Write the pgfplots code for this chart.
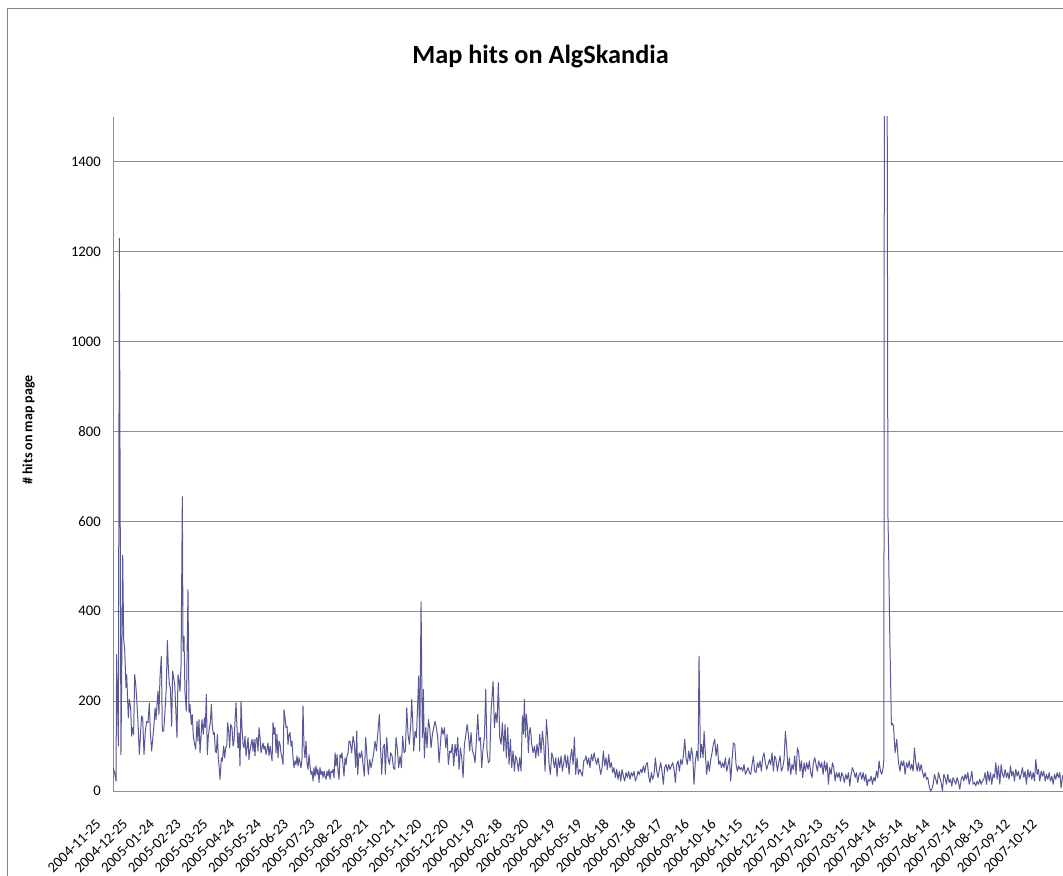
\documentclass[border=0pt]{standalone}
\usepackage{fontspec}
\setmainfont{Carlito}
\usepackage{pgfplots}
\pgfplotsset{compat=1.18}
\definecolor{linecol}{RGB}{88,88,150}
\definecolor{gridcol}{RGB}{140,140,140}
\definecolor{bordercol}{RGB}{134,134,134}
\begin{document}
\begin{tikzpicture}
\path[use as bounding box] (0,0) rectangle (797.25pt,656.25pt);
\draw[bordercol, line width=0.75pt] (5.25pt,-5pt) -- (5.25pt,649.5pt) -- (810pt,649.5pt);
\begin{axis}[
  at={(84.75pt,63pt)}, anchor=south west,
  scale only axis, width=712.5pt, height=505.5pt,
  xmin=0, xmax=1096, ymin=0, ymax=1500,
  enlargelimits=false,
  axis x line*=bottom, axis y line*=left,
  axis line style={-, draw=gridcol, line width=0.75pt},
  major tick length=0pt,
  ymajorgrids, grid style={draw=gridcol, line width=0.75pt},
  ytick={0,200,400,600,800,1000,1200,1400},
  /pgf/number format/1000 sep={},
  /pgf/number format/assume math mode=true,
  xtick={0,30.85,61.7,92.55,123.4,154.25,185.1,215.95,246.8,277.65,308.5,339.35,370.2,401.05,431.9,462.75,493.6,524.45,555.3,586.15,617,647.85,678.7,709.55,740.4,771.25,802.1,832.95,863.8,894.65,925.5,956.35,987.2,1018.05,1048.9,1079.75},
  xticklabels={2004-11-25,2004-12-25,2005-01-24,2005-02-23,2005-03-25,2005-04-24,2005-05-24,2005-06-23,2005-07-23,2005-08-22,2005-09-21,2005-10-21,2005-11-20,2005-12-20,2006-01-19,2006-02-18,2006-03-20,2006-04-19,2006-05-19,2006-06-18,2006-07-18,2006-08-17,2006-09-16,2006-10-16,2006-11-15,2006-12-15,2007-01-14,2007-02-13,2007-03-15,2007-04-14,2007-05-14,2007-06-14,2007-07-14,2007-08-13,2007-09-12,2007-10-12},
  ticklabel style={font=\fontsize{11}{13}\selectfont},
  yticklabel style={anchor=east, inner sep=0pt, xshift=-9pt},
  xticklabel style={xshift=-10.8pt, yshift=-23pt, rotate=45, anchor=east, inner sep=0pt},
  every axis title shift=0pt,
  title={Map hits on AlgSkandia},
  title style={at={(axis description cs:0.45,1.089)}, anchor=center, font=\fontsize{19.7}{23}\selectfont\bfseries},
  ylabel={\# hits on map page},
  ylabel style={at={(axis description cs:-0.0889,0.5356)}, anchor=center, font=\fontsize{10.5}{12}\selectfont\bfseries},
]
\addplot[linecol, line width=0.75pt, line join=round] coordinates {
(0,52) (1.5,44) (3.5,22) (4.2,304) (6.2,100) (7.3,1230) (9.2,81) (11.2,525) (12.3,337) (13.5,315) (15,230) (15.8,259) (17,196) (17.7,163) (18.8,204) (20.4,185) (21.5,122) (22.7,141) (23.8,126) (25,259) (26.2,237) (27.3,207) (28.8,155) (30.4,81) (31.9,133) (33,167) (34.2,163) (35.8,81) (37.3,133) (38.8,155) (40.4,152) (41.9,196) (43,133) (44.6,89) (45.8,115) (47.3,148) (48.5,185) (49.6,159) (50.8,193) (51.9,222) (53,170) (54.2,252) (55.8,300) (56.9,133) (58.5,133) (60,178) (61.5,230) (62.7,335) (63.8,278) (65,237) (66.2,230) (67.7,144) (68.8,267) (70,252) (71.2,237) (72.3,189) (73.8,119) (75,259) (76.2,244) (77.3,222) (78.5,281) (80,655) (80.8,311) (81.9,344) (83,222) (84.6,178) (86.5,448) (87.7,174) (88.8,193) (90.4,148) (91.5,170) (92.7,119) (94.2,104) (95.4,93) (96.9,155) (98,111) (99.2,159) (100.4,85) (101.5,119) (102.7,159) (104.2,126) (105.4,163) (106.5,141) (107.7,215) (108.8,81) (110,122) (111.2,141) (112.3,152) (113.5,193) (114.6,144) (115.8,126) (116.9,130) (118.1,89) (119.2,85) (120.4,126) (121.5,74) (122.5,52) (123.5,26) (125,74) (126.2,67) (127.7,100) (128.8,74) (130,96) (131.2,100) (132.3,152) (133.5,133) (134.6,96) (135.8,148) (137.3,141) (138.5,100) (139.6,111) (140.8,155) (141.9,196) (143,144) (144.2,96) (145.4,130) (146.5,56) (147.7,200) (148.8,141) (150,104) (151.2,96) (152.3,122) (153.5,78) (154.6,96) (155.8,119) (156.9,70) (158,89) (159.2,104) (160.4,115) (161.5,89) (162.7,115) (163.8,78) (165,115) (166.2,119) (167.3,89) (168.5,141) (169.6,119) (170.8,85) (171.9,96) (173.1,107) (174.2,93) (175.4,100) (176.5,81) (177.7,93) (178.8,107) (180,78) (181.2,100) (182.3,85) (183.5,67) (184.6,152) (185.8,126) (186.9,141) (188.1,85) (189.2,126) (190.4,74) (191.5,111) (192.7,104) (193.8,85) (195,74) (196.2,59) (197.3,181) (198.5,163) (199.6,141) (200.8,144) (201.9,104) (203.1,126) (204.2,130) (205.4,100) (206.5,111) (207.7,74) (208.8,52) (210,67) (211.2,59) (212.3,78) (213.5,56) (214.6,74) (215.8,63) (216.9,52) (218.1,74) (219.2,189) (220.4,96) (221.5,74) (222.7,111) (223.8,63) (225,48) (226.2,81) (227.3,56) (228.5,37) (229.6,44) (230.8,22) (231.9,52) (233.1,33) (234.2,56) (235.4,37) (236.5,48) (237.7,19) (238.8,52) (240,37) (241.2,44) (242.3,30) (243.5,44) (244.6,33) (245.8,26) (246.9,44) (248.1,33) (249.2,48) (250.4,26) (251.5,44) (252.7,41) (253.8,48) (255,30) (256.2,85) (257.3,56) (258.5,81) (259.6,44) (260.8,26) (261.9,81) (263.1,74) (264.2,85) (265.4,56) (266.5,33) (267.7,74) (268.8,59) (270,78) (271.2,85) (272.3,111)
(273.5,111) (275.4,85) (277,122) (278.5,104) (280,52) (281.2,133) (282.3,37) (283.9,85) (285.4,74) (286.9,89) (288.5,59) (290,33) (291.5,119) (293.1,74) (294.6,37) (296.2,70) (297.7,52) (299.2,67) (300.8,85) (302.3,111) (303.9,89) (305.4,126) (307.3,170) (308.5,104) (310,37) (311.5,96) (313.1,104) (314.2,37) (315.8,119) (317.3,74) (318.9,59) (320.4,85) (322,78) (323.5,52) (325,48) (326.5,119) (328.1,93) (329.6,52) (331.2,78) (332.7,52) (334.2,122) (335.8,85) (337.3,89) (338.9,185) (340.4,126) (341.9,104) (343.5,148) (344.6,204) (345.8,152) (346.9,89) (348.5,133) (350,119) (351.5,193) (352.7,256) (353.8,89) (355.4,421) (356.5,193) (357,119) (358.1,226) (359.2,74) (360.8,141) (362.3,96) (363.9,159) (365.4,141) (366.9,96) (368.5,126) (370,141) (371.5,155) (373.1,141) (374.6,119) (376.2,63) (377.7,104) (379.2,141) (380.8,126) (382.3,141) (383.9,96) (385.4,126) (386.9,59) (388.5,89) (390,85) (391.5,104) (393.1,56) (394.6,104) (396.2,78) (397.7,119) (399.2,48) (400.8,96) (402.3,74) (403.9,30) (405.4,104) (406.9,122) (408.5,148) (410,126) (411.5,89) (413.1,130) (414.6,89) (416.2,81) (417.7,63) (419.2,111) (420.8,170) (422.3,111) (423.9,119) (425.4,52) (427,96) (428.5,119) (430,226) (431.5,89) (433.1,63) (434.6,67) (436.2,178) (438.5,244) (440,141) (441.5,174) (443.1,152) (444.6,241) (446.2,119) (447.7,104) (449.2,152) (450.8,89) (452.3,148) (453.8,74) (455.4,141) (456.9,59) (458.5,115) (460,52) (461.5,89) (463.1,44) (464.6,78) (466.2,67) (467.7,44) (469.2,74) (470.8,44) (472.3,167) (473.5,126) (474.6,204) (475.8,119) (476.9,170) (478.1,141) (479.2,85) (480.4,133) (481.5,141) (483.1,104) (484.6,85) (486.2,100) (487.7,74) (489.2,104) (490.8,78) (492.3,126) (493.8,85) (495.4,133) (496.9,104) (498.5,44) (500,159) (501.5,119) (503.1,59) (504.6,37) (506.2,85) (507.7,74) (509.2,52) (510.8,74) (512.3,33) (513.8,74) (515.4,52) (516.9,78) (518.5,44) (520,63) (521.5,81) (523.1,52) (524.6,78) (526.2,37) (527.7,74) (529.2,93) (530.8,59) (532.3,119) (533.8,37) (535.4,74) (536.9,37) (538.5,48) (540,41) (541.5,33) (543.1,67) (544.6,70)
(545.7,78) (547.3,59) (548.8,74) (550.3,52) (551.9,81) (553.4,67) (555,85) (556.5,70) (558,59) (559.6,74) (561.1,56) (562.6,37) (564.2,52) (565.7,89) (567.3,56) (568.8,74) (570.3,48) (571.9,81) (573.4,52) (575,63) (576.5,41) (578,52) (579.6,30) (581.1,48) (582.6,26) (584.2,44) (585.7,22) (587.3,48) (588.8,33) (590.3,22) (591.9,41) (593.4,30) (594.9,44) (596.5,26) (598,41) (599.6,33) (601.1,44) (602.6,22) (604.2,30) (605.7,44) (607.3,37) (608.8,48) (610.3,41) (611.9,56) (613.4,41) (615,59) (616.5,63) (618,33) (619.6,19) (621.1,41) (622.6,26) (624.2,37) (625.7,74) (627.3,44) (628.8,30) (630.3,48) (631.9,63) (633.4,44) (634.9,15) (636.5,52) (638,59) (639.6,44) (641.1,59) (642.6,48) (644.2,56) (645.7,63) (647.3,48) (648.8,19) (650.3,59) (651.9,67) (653.4,44) (655,70) (656.5,59) (658,78) (659.6,115) (661.1,74) (662.6,59) (664.2,89) (665.7,67) (667.3,96) (668.8,78) (670.3,15) (671.9,67) (673.4,89) (675,67) (676.1,300) (677.7,74) (679.2,104) (680.8,74) (681.9,133) (683.4,81) (684.9,37) (686.5,67) (688,44) (689.6,70) (691.1,85) (692.6,104) (694.2,115) (695.7,78) (697.3,104) (698.8,59) (700.3,67) (701.9,52) (703.4,63) (704.9,52) (706.5,74) (708,44) (709.6,59) (711.1,74) (712.6,22) (714.2,70) (715.7,107) (717.3,104) (718.8,59) (720.3,44) (721.9,56) (723.4,48) (724.9,52) (726.5,44) (728,59) (729.6,37) (731.1,44) (732.6,52) (734.2,41) (735.7,37) (737.3,59) (738.8,78) (740.3,44) (741.9,41) (743.4,63) (744.9,52) (746.5,67) (748,44) (749.6,74) (751.1,85) (752.6,63) (754.2,48) (755.7,59) (757.3,70) (758.8,59) (760.3,85) (761.9,44) (763.4,78) (764.9,70) (766.5,44) (768,63) (769.6,78) (771.1,44) (772.6,52) (774.2,70) (775.7,133) (777.3,96) (778.8,44) (780.3,74) (781.9,37) (783.4,59) (784.9,48) (786.5,78) (788,37) (789.6,96) (791.1,85) (792.6,44) (794.2,67) (795.7,30) (797.3,63) (798.8,44) (800.3,63) (801.9,48) (803.4,67) (804.9,41) (806.5,30) (808,63) (809.6,74) (811.1,59) (812.6,44) (814.2,67)
(816.2,52) (817.7,63) (819.2,37) (820.8,67) (822.3,44) (823.8,63) (825.4,15) (826.9,52) (828.5,37) (830,63) (831.5,52) (833.1,22) (834.6,41) (836.2,30) (837.7,41) (839.2,22) (840.8,41) (842.3,33) (843.8,19) (845.4,37) (846.9,26) (848.5,41) (850,11) (851.5,37) (853.1,52) (854.6,44) (856.2,30) (857.7,41) (859.2,19) (860.8,37) (862.3,41) (863.8,26) (865.4,41) (866.9,22) (868.5,37) (870,11) (871.5,26) (873.1,22) (874.6,33) (876.2,15) (877.7,30) (879.2,22) (880.8,44) (882.3,30) (883.8,67) (885.4,44) (886.9,37) (888.5,52) (889.3,70)
(890,1900) (891.5,2100) (893,1700) (894,615) (895,510) (896,362) (897,258) (898,147) (899.5,150) (900.4,144) (902.3,85) (904.2,115) (906.2,63) (908,44) (909.2,67) (910.8,56) (912.3,67) (913.8,37) (915.4,63) (916.9,52) (918.5,67) (920,48) (921.5,59) (923.1,44) (924.6,96) (926.2,63) (927.7,44) (929.2,63) (930.8,44) (932.3,59) (933.8,44) (935.4,30) (936.9,41) (938.5,26) (940,30) (941.5,11) (943.1,0) (944.6,4) (946.2,15) (947.7,37) (949.2,26) (950.8,15) (952.3,41) (953.8,30) (955.4,19) (956.9,0) (958.5,37) (960,30) (961.5,15) (963.1,37) (964.6,19) (966.2,26) (967.7,11) (969.2,30) (970.8,22) (972.3,15) (973.8,30) (975.4,19) (976.9,4) (978.5,26) (980,33) (981.5,22) (983.1,37) (984.6,26) (986.2,41) (987.7,15) (989.2,26) (990.8,44) (992.3,15) (993.8,19) (995.4,11) (996.9,22) (998.5,15) (1000,26) (1001.5,15) (1003.1,22) (1004.6,26) (1006.2,41) (1007.7,15) (1009.2,44) (1010.8,22) (1012.3,41) (1013.8,15) (1015.4,37) (1016.9,30) (1018.5,63) (1020,26) (1021.5,56) (1023.1,15) (1024.6,59) (1026.2,37) (1027.7,30) (1029.2,48) (1030.8,30) (1032.3,41) (1033.8,26) (1035.4,56) (1036.9,33) (1038.5,44) (1040,22) (1041.5,48) (1043.1,33) (1044.6,44) (1046.2,26) (1047.7,37) (1049.2,52) (1050.8,30) (1052.3,44) (1053.8,15) (1055.4,48) (1056.9,30) (1058.5,44) (1060,26) (1061.5,41) (1063.1,22) (1064.6,70) (1066.2,37) (1067.7,48) (1069.2,22) (1070.8,44) (1072.3,33) (1073.8,44) (1075.4,22) (1076.9,37) (1078.5,26) (1080,41) (1081.5,22) (1083.1,33) (1084.6,15) (1086.2,37) (1087.7,26) (1089.2,41) (1090.8,30) (1092.3,41) (1093.8,7) (1095.4,33) (1096,35)
};
\end{axis}
\end{tikzpicture}
\end{document}
